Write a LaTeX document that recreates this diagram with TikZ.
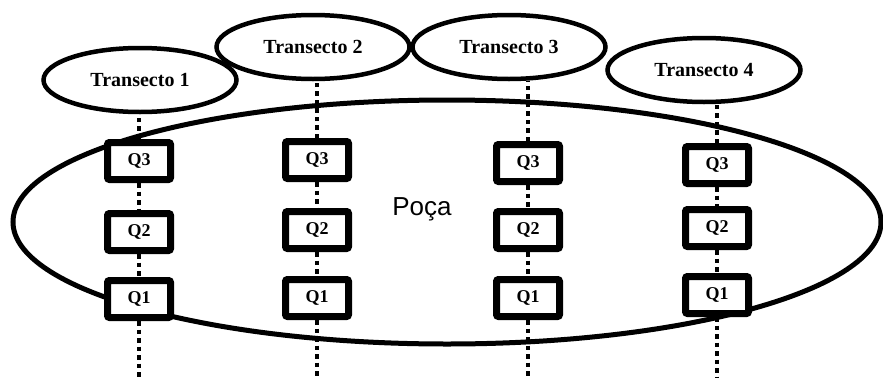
\documentclass[tikz,border=0pt]{standalone}
\usepackage{fontspec}
\setmainfont{Liberation Serif}
\newfontfamily\pocafont{Liberation Sans}
\usetikzlibrary{shapes.geometric}

\begin{document}
\begin{tikzpicture}[x=1pt, y=-1pt,
    transecto/.style={draw, ellipse, line width=4.5pt, fill=white, minimum width=193pt, minimum height=64pt, inner sep=0pt, font=\fontsize{20}{24}\selectfont\bfseries},
    quadrado/.style={draw, line width=7pt, rounded corners=2pt, fill=white, minimum width=63pt, minimum height=37pt, inner sep=0pt, font=\fontsize{18}{22}\selectfont\bfseries},
    pontilhado/.style={line width=4.5pt, dash pattern=on 4.5pt off 4pt}]
    \useasboundingbox (0,0) rectangle (883,378);
    %大椭圆
    \draw[line width=5pt] (447,222) ellipse [x radius=434, y radius=122];
    \node[anchor=base, font=\pocafont\fontsize{26}{30}\selectfont] (poca) at (422,215) {Poça};
    %样线
    \node[transecto] (t1) at (140,80) {Transecto 1};
    \node[transecto] (t2) at (313,47) {Transecto 2};
    \node[transecto] (t3) at (509,47) {Transecto 3};
    \node[transecto] (t4) at (704,70) {Transecto 4};
    %样方和虚线
    \foreach \i/\x/\ya/\yb/\yc in {1/139/161/232/299, 2/317/160/230/298, 3/528/163/230/298, 4/717/165/228/295} {
        \node[quadrado] (c\i-q3) at (\x,\ya) {Q3};
        \node[quadrado] (c\i-q2) at (\x,\yb) {Q2};
        \node[quadrado] (c\i-q1) at (\x,\yc) {Q1};
        \coordinate (c\i-fim) at (\x,378);
        \draw[pontilhado] (c\i-q3.north) -- (c\i-q3.north |- t\i.south);
        \draw[pontilhado] (c\i-q3.south) -- (c\i-q2.north);
        \draw[pontilhado] (c\i-q2.south) -- (c\i-q1.north);
        \draw[pontilhado] (c\i-q1.south) -- (c\i-fim);
    }
\end{tikzpicture}
\end{document}
